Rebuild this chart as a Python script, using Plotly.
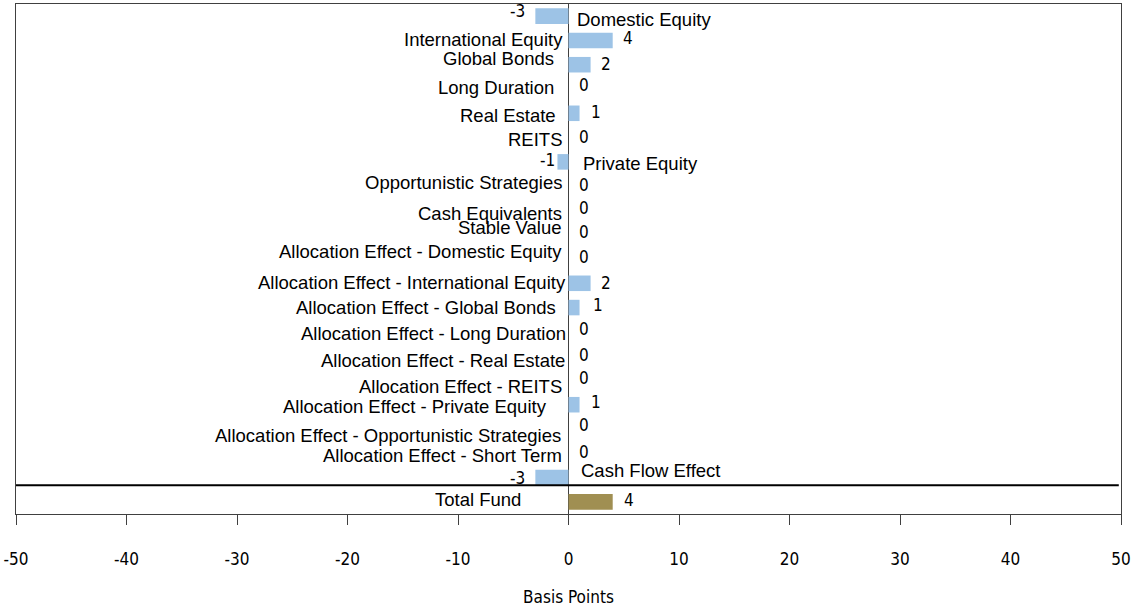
import plotly.graph_objects as go

# Attribution rows, top to bottom
categories = [
    "Domestic Equity",
    "International Equity",
    "Global Bonds",
    "Long Duration",
    "Real Estate",
    "REITS",
    "Private Equity",
    "Opportunistic Strategies",
    "Cash Equivalents",
    "Stable Value",
    "Allocation Effect - Domestic Equity",
    "Allocation Effect - International Equity",
    "Allocation Effect - Global Bonds",
    "Allocation Effect - Long Duration",
    "Allocation Effect - Real Estate",
    "Allocation Effect - REITS",
    "Allocation Effect - Private Equity",
    "Allocation Effect - Opportunistic Strategies",
    "Allocation Effect - Short Term",
    "Cash Flow Effect",
]
values = [-3, 4, 2, 0, 1, 0, -1, 0, 0, 0, 0, 2, 1, 0, 0, 0, 1, 0, 0, -3]

total_label = "Total Fund"
total_value = 4

x_ticks = [-50, -40, -30, -20, -10, 0, 10, 20, 30, 40, 50]
x_tick_text = ["-50", "-40", "-30", "-20", "-10", "0", "10", "20", "30", "40", "50"]
x_title = "Basis Points"

# Hand-placed label nudges (pixels), one per row incl. the total row
cat_dx = [7, -5, -14, -14, -12, -6, 13, -6, -6, -6, -6, -2, -12, -2, -3, -6, -21, -7, -6, 11, -47]
cat_dy = [3.4, -1, -6, -2, 2, 1.5, 2, -4, 2.6, -7.7, -8, -1, 0, 2, 4, 6.5, 2, 6, 2, -6.6, -2]
val_gap = [9, 9, 9, 9, 10, 9, 1, 9, 9, 9, 9, 9, 12, 9, 9, 9, 10, 9, 9, 9, 10]
val_dy = [-5, -2, -1, -4, -1, -0.5, -2, -1, -2.4, -2.7, -2, 0, -2.6, -3, -1, -2.5, -3, -4, -1, 0, -2]

BLUE = "#9DC3E6"
OLIVE = "#A08F52"
FRAME = "#404040"
BAR_W = 0.64
LABEL_FONT = dict(family="Liberation Sans, Arial, sans-serif", size=18.5, color="#000000")
NUM_FONT = dict(
    family=("Liberation Sans Narrow, Arial Narrow, Noto Sans ExtraCondensed, "
            "Noto Sans Condensed, DejaVu Sans Condensed, Roboto Condensed, "
            "Liberation Sans, Arial, sans-serif"),
    size=17, color="#000000")

rows = list(range(len(categories)))
total_row = len(categories)

fig = go.Figure()
fig.add_trace(go.Bar(x=values, y=rows, orientation="h", width=BAR_W,
                     marker=dict(color=BLUE, line=dict(width=0)), hoverinfo="skip"))
fig.add_trace(go.Bar(x=[total_value], y=[total_row], orientation="h", width=BAR_W,
                     marker=dict(color=OLIVE, line=dict(width=0)), hoverinfo="skip"))

all_labels = categories + [total_label]
all_values = values + [total_value]
annotations = []
for i, (lab, v) in enumerate(zip(all_labels, all_values)):
    neg = v < 0
    # category name sits on the side of the zero line away from the bar
    annotations.append(dict(
        x=0, y=i, xref="x", yref="y", text=lab, showarrow=False,
        xanchor="left" if neg else "right", yanchor="middle",
        xshift=cat_dx[i], yshift=-cat_dy[i], borderpad=0, font=LABEL_FONT))
    # value label just past the bar end
    annotations.append(dict(
        x=v, y=i, xref="x", yref="y", text=str(v), showarrow=False,
        xanchor="right" if neg else "left", yanchor="middle",
        xshift=-val_gap[i] if neg else val_gap[i], yshift=-val_dy[i],
        borderpad=0, font=NUM_FONT))

# rule separating the attribution rows from the total
sep_y = rows[-1] + BAR_W / 2
fig.add_shape(type="line", xref="paper", yref="y", x0=0, x1=0.998, y0=sep_y, y1=sep_y,
              line=dict(color="#000000", width=2))

fig.update_layout(
    width=1135, height=612,
    margin=dict(l=16, r=14, t=4, b=98),
    paper_bgcolor="white", plot_bgcolor="white",
    showlegend=False, barmode="overlay",
    annotations=annotations,
    xaxis=dict(
        range=[x_ticks[0], x_ticks[-1]], tickvals=x_ticks, ticktext=x_tick_text,
        showgrid=False, zeroline=True, zerolinecolor=FRAME, zerolinewidth=1,
        showline=True, mirror=True, linecolor=FRAME, linewidth=1,
        ticks="outside", ticklen=10, tickcolor=FRAME, tickwidth=1,
        tickfont=NUM_FONT, ticklabelstandoff=20, ticklabeloverflow="allow",
        title=dict(text=x_title, font=NUM_FONT, standoff=22),
    ),
    yaxis=dict(
        range=[total_row + 0.5, -0.5], showticklabels=False, ticks="",
        showgrid=False, zeroline=False,
        showline=True, mirror=True, linecolor=FRAME, linewidth=1,
    ),
)

fig.write_html("out.html")
